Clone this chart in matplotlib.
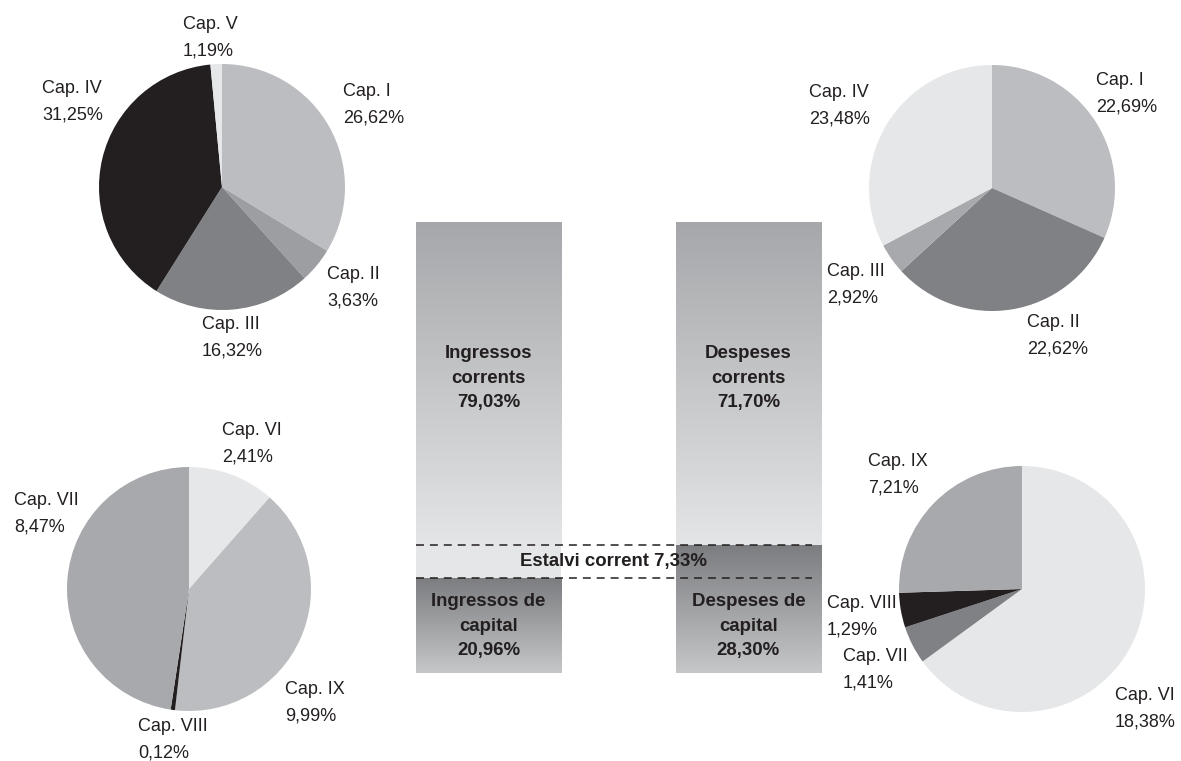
import numpy as np
import matplotlib
matplotlib.use("Agg")
import matplotlib.pyplot as plt
from matplotlib.colors import LinearSegmentedColormap

plt.rcParams['font.family'] = ['Liberation Sans', 'DejaVu Sans']

W, H = 1181, 761

# Pie data (percent of total budget), slices clockwise from 12 o'clock
ing_corr_labels = ["Cap. I", "Cap. II", "Cap. III", "Cap. IV", "Cap. V"]
ing_corr_values = [26.62, 3.63, 16.32, 31.25, 1.19]
ing_corr_text = ["26,62%", "3,63%", "16,32%", "31,25%", "1,19%"]

desp_corr_labels = ["Cap. I", "Cap. II", "Cap. III", "Cap. IV"]
desp_corr_values = [22.69, 22.62, 2.92, 23.48]
desp_corr_text = ["22,69%", "22,62%", "2,92%", "23,48%"]

# the source draws the capital-income slices in this order / size
ing_cap_labels = ["Cap. VI", "Cap. IX", "Cap. VIII", "Cap. VII"]
ing_cap_values = [2.41, 8.47, 0.12, 9.99]
ing_cap_text = ["2,41%", "9,99%", "0,12%", "8,47%"]

desp_cap_labels = ["Cap. VI", "Cap. VII", "Cap. VIII", "Cap. IX"]
desp_cap_values = [18.38, 1.41, 1.29, 7.21]
desp_cap_text = ["18,38%", "1,41%", "1,29%", "7,21%"]

# Bar data
ingressos_corrents = 79.03
ingressos_capital = 20.96
despeses_corrents = 71.70
despeses_capital = 28.30
estalvi = 7.33

# colours
C_LIGHT = "#e6e7e8"
C_L2 = "#bcbdc0"
C_MID = "#a7a9ac"
C_M2 = "#9d9ea1"
C_DARK = "#808184"
C_BLACK = "#231f20"

fig = plt.figure(figsize=(W / 100, H / 100), dpi=100)
ax = fig.add_axes([0, 0, 1, 1])


def py(y):
    return H - y


def draw_pie(values, colors, center, radius, labels, texts, label_pos):
    ax.pie(values, colors=colors, startangle=90, counterclock=False,
           center=(center[0], py(center[1])), radius=radius, frame=True,
           wedgeprops=dict(linewidth=0))
    for lab, txt, (x, y) in zip(labels, texts, label_pos):
        ax.text(x, py(y), lab + "\n" + txt, ha="left", va="center",
                fontsize=13, color="#231f20", linespacing=1.7)


draw_pie(ing_corr_values, [C_L2, C_M2, C_DARK, C_BLACK, C_LIGHT],
         (222, 187), 123, ing_corr_labels, ing_corr_text,
         [(343, 105), (327, 288), (202, 338), (42, 102), (183, 38)])

draw_pie(desp_corr_values, [C_L2, C_DARK, C_MID, C_LIGHT],
         (992, 188), 123, desp_corr_labels, desp_corr_text,
         [(1096, 94), (1027, 336), (827, 285), (809, 106)])

draw_pie(ing_cap_values, [C_LIGHT, C_L2, C_BLACK, C_MID],
         (189, 589), 122, ing_cap_labels, ing_cap_text,
         [(222, 444), (285, 703), (138, 740), (14, 514)])

draw_pie(desp_cap_values, [C_LIGHT, C_DARK, C_BLACK, C_MID],
         (1022, 589), 123, desp_cap_labels, desp_cap_text,
         [(1115, 709), (843, 670), (827, 617), (868, 475)])

ax.set_xlim(0, W)
ax.set_ylim(0, H)
ax.set_aspect("auto")
ax.axis("off")

# ---- central stacked bars with gradients ----
bx0, bx1 = 416, 821
by_top, by_bot = 222, 673
bax = fig.add_axes([bx0 / W, (H - by_bot) / H, (bx1 - bx0) / W, (by_bot - by_top) / H])
bax.set_xlim(-0.279, 1.279)
bax.set_ylim(0, ingressos_corrents + ingressos_capital)
bax.axis("off")

width = 0.558
x = [0, 1]
corr = [ingressos_corrents, despeses_corrents]
cap = [ingressos_capital, despeses_capital]

cap_bars = bax.bar(x, cap, width=width, color="none")
corr_bars = bax.bar(x, corr, bottom=cap, width=width, color="none")

grad = np.linspace(0, 1, 256).reshape(-1, 1)
cmap_corr = LinearSegmentedColormap.from_list("corr", ["#a5a7aa", "#e4e5e6"])
cmap_cap = LinearSegmentedColormap.from_list("cap", ["#7c7d80", "#c6c7c9"])

top_all = ingressos_corrents + ingressos_capital
saving_top = ingressos_capital + estalvi
for i, b in enumerate(corr_bars):
    xl = x[i] - width / 2
    xr = x[i] + width / 2
    im = bax.imshow(grad, cmap=cmap_corr, aspect="auto",
                    extent=(xl, xr, saving_top, top_all), zorder=1)
    im.set_clip_path(b)
for i, b in enumerate(cap_bars):
    xl = x[i] - width / 2
    xr = x[i] + width / 2
    im = bax.imshow(grad, cmap=cmap_cap, aspect="auto",
                    extent=(xl, xr, 0, cap[i]), zorder=1)
    im.set_clip_path(b)

# estalvi band in the left bar
bax.bar(0, estalvi, bottom=ingressos_capital, width=width, color="#e5e6e7", zorder=1)

# dashed lines
for yv in [ingressos_capital, despeses_capital]:
    bax.plot([-0.279, 1.244], [yv, yv], color="#231f20", lw=1.1,
             dashes=(5.2, 3.9), zorder=3, clip_on=False)

bold = dict(fontsize=13.4, fontweight="bold", color="#231f20",
            ha="center", va="center", linespacing=1.59, zorder=4)
bax.text(0, 65.4, "Ingressos\ncorrents\n79,03%", **bold)
bax.text(1, 65.4, "Despeses\ncorrents\n71,70%", **bold)
bax.text(0, 10.4, "Ingressos de\ncapital\n20,96%", **bold)
bax.text(1, 10.4, "Despeses de\ncapital\n28,30%", **bold)
bax.text(0.479, (ingressos_capital + despeses_capital) / 2,
         "Estalvi corrent 7,33%", **bold)

fig.savefig("out.png", dpi=100)
